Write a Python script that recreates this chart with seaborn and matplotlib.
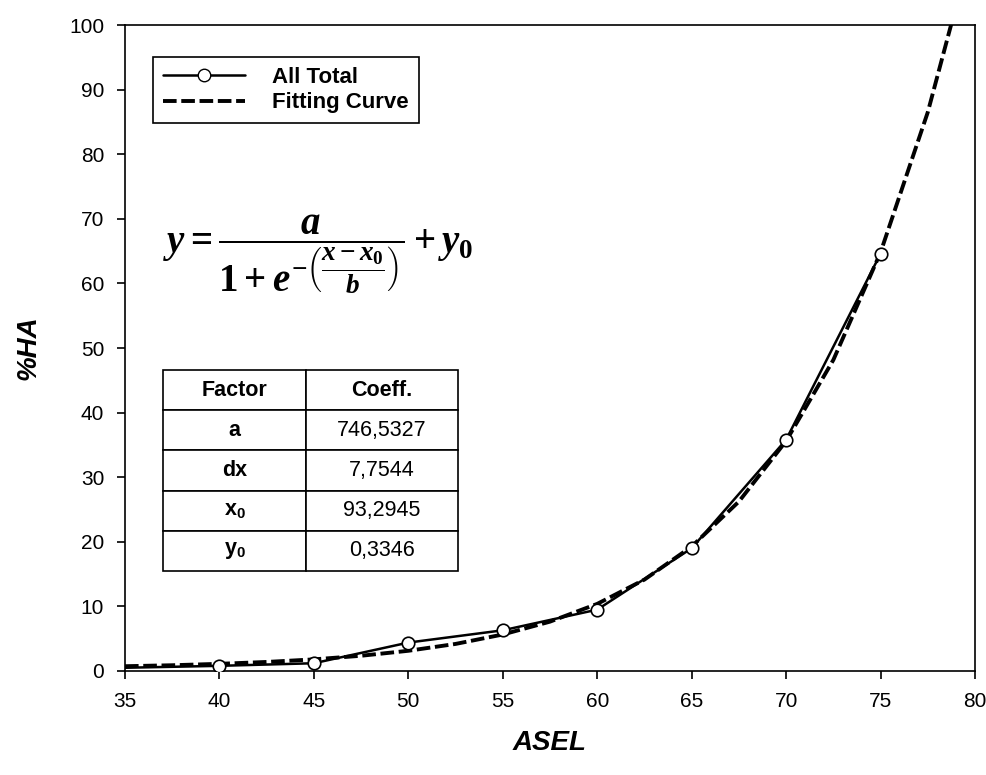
import matplotlib
matplotlib.use("Agg")
import matplotlib.pyplot as plt
import seaborn as sns
import pandas as pd
from matplotlib.lines import Line2D

# ---- data ----
asel_points = [35, 40, 45, 50, 55, 60, 65, 70, 75]
ha_total = [0.5, 0.8, 1.2, 4.4, 6.3, 9.5, 19.0, 35.8, 64.6]

asel_fit = [35, 37.5, 40, 42.5, 45, 47.5, 50, 52.5, 55, 57.5, 60, 62.5,
            65, 67.5, 70, 72.5, 75, 77.5, 80]
ha_fit = [0.74, 0.89, 1.11, 1.40, 1.80, 2.36, 3.13, 4.19, 5.65, 7.64, 10.39,
          14.15, 19.27, 26.23, 35.6, 48.15, 64.8, 86.5, 113.9]

x_ticks = [35, 40, 45, 50, 55, 60, 65, 70, 75, 80]
y_ticks = [0, 10, 20, 30, 40, 50, 60, 70, 80, 90, 100]

series_names = ["All Total", "Fitting Curve"]
table_header = ["Factor", "Coeff."]
table_factors = ["a", "dx", "$\\mathregular{x_0}$", "$\\mathregular{y_0}$"]
table_coeffs = ["746,5327", "7,7544", "93,2945", "0,3346"]

# ---- style ----
sns.set_style("ticks")
plt.rcParams["font.family"] = ["Liberation Sans", "DejaVu Sans"]
plt.rcParams["text.color"] = "black"
plt.rcParams["axes.labelcolor"] = "black"
plt.rcParams["xtick.color"] = "black"
plt.rcParams["ytick.color"] = "black"
plt.rcParams["mathtext.fontset"] = "custom"
plt.rcParams["mathtext.it"] = "Liberation Serif:italic:bold"
plt.rcParams["mathtext.rm"] = "Liberation Serif:bold"
plt.rcParams["mathtext.bf"] = "Liberation Serif:bold"

fig = plt.figure(figsize=(9.86, 7.75), dpi=100)
ax = fig.add_axes([125 / 986, 1 - 671 / 775, 850 / 986, 646 / 775])

df_total = pd.DataFrame({"ASEL": asel_points, "HA": ha_total})
df_fit = pd.DataFrame({"ASEL": asel_fit, "HA": ha_fit})

fit_dash = (0, (3.5, 1.2))
sns.lineplot(data=df_fit, x="ASEL", y="HA", ax=ax, color="black",
             linewidth=2.8, linestyle=fit_dash, zorder=2)
sns.lineplot(data=df_total, x="ASEL", y="HA", ax=ax, color="black",
             linewidth=1.8, marker="o", markersize=9,
             markevery=list(range(1, len(asel_points))),
             markerfacecolor="white", markeredgecolor="black",
             markeredgewidth=1.2, zorder=3)

ax.set_xlim(35, 80)
ax.set_ylim(0, 100)
ax.set_xticks(x_ticks)
ax.set_yticks(y_ticks)
ax.tick_params(axis="both", direction="out", length=6, width=1.2,
               labelsize=15, pad=9, color="black", labelcolor="black")
for sp in ax.spines.values():
    sp.set_visible(True)
    sp.set_color("black")
    sp.set_linewidth(1.2)

ax.set_xlabel("ASEL", fontsize=20, fontweight="bold", fontstyle="italic",
              labelpad=14, color="black")
ax.set_ylabel("%HA", fontsize=20, fontweight="bold", fontstyle="italic",
              labelpad=20, color="black")

# legend
handles = [
    Line2D([], [], color="black", linewidth=1.8, marker="o", markersize=9,
           markerfacecolor="white", markeredgecolor="black"),
    Line2D([], [], color="black", linewidth=2.8, linestyle=fit_dash),
]
leg = ax.legend(handles, series_names, loc="upper left",
                bbox_to_anchor=(153 / 986, 1 - 57 / 775),
                bbox_transform=fig.transFigure, borderaxespad=0,
                fancybox=False, framealpha=1, edgecolor="black",
                handlelength=3.7, handletextpad=1.2, borderpad=0.45,
                labelspacing=0.2,
                prop={"size": 16, "weight": "bold"})
leg.get_frame().set_linewidth(1.2)
for t in leg.get_texts():
    t.set_color("black")

# equation
fig.text(318 / 986, 1 - 254 / 775,
         r"$y=\dfrac{a}{1+e^{-\left(\dfrac{x-x_0}{b}\right)}}+y_0$",
         fontsize=28, ha="center", va="center", color="black")

# coefficient table
cell_text = [[f, c] for f, c in zip(table_factors, table_coeffs)]
tbl = ax.table(cellText=cell_text, colLabels=table_header,
               cellLoc="center", colWidths=[0.485, 0.515],
               bbox=[(163 - 125) / 850, (671 - 571) / 646,
                     (458 - 163) / 850, (571 - 370) / 646])
tbl.auto_set_font_size(False)
for (r, c), cell in tbl.get_celld().items():
    cell.set_edgecolor("black")
    cell.set_linewidth(1.2)
    cell.set_facecolor("white")
    txt = cell.get_text()
    txt.set_fontsize(15.5)
    txt.set_color("black")
    if r == 0 or c == 0:
        txt.set_fontweight("bold")

fig.savefig("out.png", dpi=100)
